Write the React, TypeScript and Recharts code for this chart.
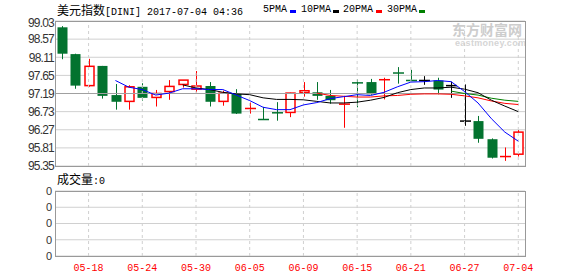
import React from "react"
import { Bar, CartesianGrid, ComposedChart, Line, ReferenceLine, XAxis, YAxis } from "recharts"

const dates = [
  "05-16", "05-17", "05-18", "05-19", "05-22", "05-23", "05-24", "05-25", "05-26", "05-29",
  "05-30", "05-31", "06-01", "06-02", "06-05", "06-06", "06-07", "06-08", "06-09", "06-12",
  "06-13", "06-14", "06-15", "06-16", "06-19", "06-20", "06-21", "06-22", "06-23", "06-26",
  "06-27", "06-28", "06-29", "06-30", "07-04",
]

const opens = [
  98.87, 98.19, 97.39, 97.89, 97.15, 96.99, 97.36, 97.09, 97.24, 97.42,
  97.3, 97.38, 96.99, 97.2, 96.8, 96.54, 96.71, 96.71, 97.21, 97.22,
  97.13, 96.91, 97.47, 97.48, 97.53, 97.72, 97.53, 97.52, 97.52, 97.39,
  96.49, 96.49, 96.03, 95.58, 95.65,
]
const highs = [
  98.9, 98.2, 98.07, 97.89, 97.43, 97.4, 97.45, 97.28, 97.53, 97.53,
  97.76, 97.48, 97.26, 97.3, 96.96, 96.85, 96.97, 97.21, 97.48, 97.48,
  97.28, 97.13, 97.55, 97.56, 97.59, 97.86, 97.79, 97.63, 97.59, 97.49,
  97.42, 96.62, 96.05, 95.82, 96.26,
]
const lows = [
  98.06, 97.31, 97.36, 97.06, 96.78, 96.78, 97.01, 96.86, 97.03, 97.34,
  97.22, 96.86, 96.88, 96.67, 96.68, 96.53, 96.5, 96.59, 97.11, 97.03,
  96.93, 96.32, 96.84, 97.16, 97.04, 97.44, 97.52, 97.41, 97.17, 97.08,
  96.37, 95.94, 95.54, 95.48, 95.59,
]
const closes = [
  98.2, 97.39, 97.88, 97.13, 96.98, 97.36, 97.08, 97.19, 97.37, 97.53,
  97.38, 96.98, 97.2, 96.68, 96.81, 96.53, 96.7, 97.2, 97.26, 97.13,
  97.02, 96.92, 97.46, 97.17, 97.54, 97.71, 97.52, 97.52, 97.29, 97.39,
  96.49, 96.04, 95.56, 95.59, 96.21,
]

const ma5 = [
  null, null, null, null, 97.52, 97.35, 97.29, 97.15, 97.2, 97.31,
  97.31, 97.29, 97.29, 97.15, 97.01, 96.84, 96.78, 96.78, 96.9, 96.96,
  97.06, 97.11, 97.16, 97.14, 97.22, 97.36, 97.48, 97.49, 97.52, 97.49,
  97.24, 96.95, 96.55, 96.21, 95.98,
]
const ma10 = [
  null, null, null, null, null, null, null, null, null, 97.41,
  97.33, 97.29, 97.22, 97.18, 97.16, 97.08, 97.04, 97.04, 97.03, 96.99,
  96.95, 96.95, 96.97, 97.02, 97.09, 97.21, 97.29, 97.33, 97.33, 97.35,
  97.3, 97.21, 97.02, 96.87, 96.73,
]
const ma20 = [
  null, null, null, null, null, null, null, null, null, null,
  null, null, null, null, null, null, null, null, null, 97.2,
  97.14, 97.12, 97.1, 97.1, 97.13, 97.14, 97.17, 97.18, 97.18, 97.17,
  97.13, 97.08, 97.0, 96.94, 96.91,
]
const ma30 = [
  null, null, null, null, null, null, null, null, null, null,
  null, null, null, null, null, null, null, null, null, null,
  null, null, null, null, null, null, null, null, null, 97.25,
  97.19, 97.15, 97.07, 97.02, 96.99,
]

const volumes = dates.map(() => 0)

const priceTicks = [95.35, 95.81, 96.27, 96.73, 97.19, 97.65, 98.11, 98.57, 99.03]
const volTicks = [0, 1, 2, 3, 4]
const volTickLabels = ["0", "0", "0", "0", "0"]
const axisDates = ["05-18", "05-24", "05-30", "06-05", "06-09", "06-15", "06-21", "06-27", "07-04"]

const data = dates.map((date, i) => ({
  date,
  open: opens[i],
  high: highs[i],
  low: lows[i],
  close: closes[i],
  ma5: ma5[i],
  ma10: ma10[i],
  ma20: ma20[i],
  ma30: ma30[i],
  volume: volumes[i],
}))

const RED = "#ff0000"
const GREEN = "#03732f"
const GRID = "#d0d0d0"
const MONO = "'Liberation Mono', monospace"
const CJK = "'Noto Sans CJK SC', sans-serif"

function Candle(props: any) {
  const { x, y, width, height, payload } = props
  if (!payload) return null
  const { open, high, low, close } = payload
  const top = Math.min(y, y + height)
  const h = Math.abs(height)
  const py = (v: number) => top + ((high - v) / (high - low)) * h
  const cx = Math.round(x + width / 2) + 0.5
  const yo = py(open)
  const yc = py(close)
  const bodyTop = Math.min(yo, yc)
  const bodyH = Math.abs(yc - yo)
  const color = close > open ? RED : close < open ? GREEN : "#000"

  if (bodyH < 1.2) {
    return (
      <g>
        <line x1={cx} x2={cx} y1={top} y2={top + h} stroke={color} strokeWidth={1} />
        <line x1={cx - 5.5} x2={cx + 5.5} y1={yc} y2={yc} stroke={color} strokeWidth={1.5} />
      </g>
    )
  }
  if (close > open) {
    return (
      <g>
        <line x1={cx} x2={cx} y1={top} y2={top + h} stroke={RED} strokeWidth={1} />
        <rect x={cx - 4.5} y={bodyTop} width={9} height={bodyH} fill="#fff" stroke={RED} strokeWidth={1.5} />
      </g>
    )
  }
  return (
    <g>
      <line x1={cx} x2={cx} y1={top} y2={top + h} stroke={GREEN} strokeWidth={1} />
      <rect x={cx - 5} y={bodyTop} width={10} height={bodyH} fill={GREEN} />
    </g>
  )
}

function PriceTick({ x, y, payload }: any) {
  const top = payload.value >= priceTicks[priceTicks.length - 1]
  return (
    <text
      x={x}
      y={y + (top ? 2 : 0)}
      dy="0.355em"
      textAnchor="end"
      fill="#333"
      fontSize={12}
      letterSpacing={-0.8}
      fontFamily="'Liberation Sans', Arial, sans-serif"
    >
      {payload.value.toFixed(2)}
    </text>
  )
}

const legend = [
  { name: "5PMA", color: "#0000ff", tx: 263, sx: 290 },
  { name: "10PMA", color: "#000000", tx: 301, sx: 333 },
  { name: "20PMA", color: "#ff0000", tx: 343, sx: 376 },
  { name: "30PMA", color: "#008000", tx: 387, sx: 419 },
]

export default function App() {
  return (
    <div
      style={{
        position: "absolute",
        left: 0,
        top: 0,
        width: 578,
        height: 276,
        background: "#fff",
        overflow: "hidden",
        fontFamily: "'Liberation Sans', Arial, sans-serif",
      }}
    >
      {/* title + legend */}
      <div style={{ position: "absolute", left: 57, top: 2, lineHeight: "16px", whiteSpace: "pre", color: "#000" }}>
        <span style={{ fontFamily: CJK, fontSize: 12 }}>美元指数</span>
        <span style={{ fontFamily: MONO, fontSize: 10 }}>[DINI] 2017-07-04 04:36</span>
      </div>
      {legend.map((l) => (
        <React.Fragment key={l.name}>
          <div style={{ position: "absolute", left: l.tx, top: 2, lineHeight: "16px", fontFamily: MONO, fontSize: 10, color: "#000" }}>
            {l.name}
          </div>
          <div style={{ position: "absolute", left: l.sx, top: 10, width: 6, height: 3, background: l.color }} />
        </React.Fragment>
      ))}

      {/* watermark */}
      <div style={{ position: "absolute", left: 452, top: 22, fontFamily: CJK, fontSize: 14, fontWeight: 700, color: "#cdcdcd", lineHeight: "15px" }}>
        东方财富网
      </div>
      <div style={{ position: "absolute", left: 455, top: 39, fontSize: 9, fontWeight: 700, color: "#d5d5d5", lineHeight: "8px", letterSpacing: 0.3 }}>
        eastmoney.com
      </div>

      {/* price panel */}
      <div style={{ position: "absolute", left: 0, top: 0 }}>
        <ComposedChart width={578} height={178} data={data} margin={{ top: 21, right: 53, bottom: 12, left: 0 }}>
          <CartesianGrid vertical={false} stroke={GRID} />
          <XAxis dataKey="date" hide />
          <YAxis
            type="number"
            domain={[95.35, 99.03]}
            ticks={priceTicks}
            interval={0}
            allowDataOverflow
            width={55}
            axisLine={false}
            tickLine={false}
            tickSize={0}
            tickMargin={1}
            tick={<PriceTick />}
          />
          {axisDates.map((d) => (
            <ReferenceLine key={d} x={d} stroke={GRID} strokeDasharray="3 3" />
          ))}
          <ReferenceLine y={97.19} stroke="#a0a0a0" />
          <Bar dataKey={(d: any) => [d.low, d.high]} shape={<Candle />} isAnimationActive={false} />
          <Line dataKey="ma30" stroke="#008000" strokeWidth={1} dot={false} isAnimationActive={false} />
          <Line dataKey="ma20" stroke="#ff0000" strokeWidth={1} dot={false} isAnimationActive={false} />
          <Line dataKey="ma10" stroke="#000000" strokeWidth={1} dot={false} isAnimationActive={false} />
          <Line dataKey="ma5" stroke="#0000ff" strokeWidth={1} dot={false} isAnimationActive={false} />
        </ComposedChart>
      </div>
      <div style={{ position: "absolute", left: 55, top: 21, width: 471, height: 146, border: "1px solid #999", boxSizing: "border-box" }} />

      {/* volume panel */}
      <div style={{ position: "absolute", left: 57, top: 171, lineHeight: "16px", whiteSpace: "pre", color: "#000" }}>
        <span style={{ fontFamily: CJK, fontSize: 12 }}>成交量</span>
        <span style={{ fontFamily: MONO, fontSize: 10 }}>:0</span>
      </div>
      <div style={{ position: "absolute", left: 0, top: 170 }}>
        <ComposedChart width={578} height={106} data={data} margin={{ top: 21, right: 53, bottom: 0, left: 0 }}>
          <CartesianGrid vertical={false} stroke={GRID} />
          <XAxis
            dataKey="date"
            ticks={axisDates}
            interval={0}
            height={20}
            axisLine={false}
            tickLine={false}
            tick={{ fill: "#ff0000", fontSize: 10, fontFamily: MONO }}
          />
          <YAxis
            type="number"
            domain={[0, 4]}
            ticks={volTicks}
            interval={0}
            width={55}
            axisLine={false}
            tickLine={false}
            tickSize={0}
            tickMargin={3}
            tickFormatter={(v: number) => volTickLabels[v]}
            tick={{ fill: "#333", fontSize: 11 }}
          />
          {axisDates.map((d) => (
            <ReferenceLine key={d} x={d} stroke={GRID} strokeDasharray="3 3" />
          ))}
          <Bar dataKey="volume" fill={GREEN} isAnimationActive={false} />
        </ComposedChart>
      </div>
      <div style={{ position: "absolute", left: 55, top: 191, width: 471, height: 66, border: "1px solid #999", boxSizing: "border-box" }} />
    </div>
  )
}
